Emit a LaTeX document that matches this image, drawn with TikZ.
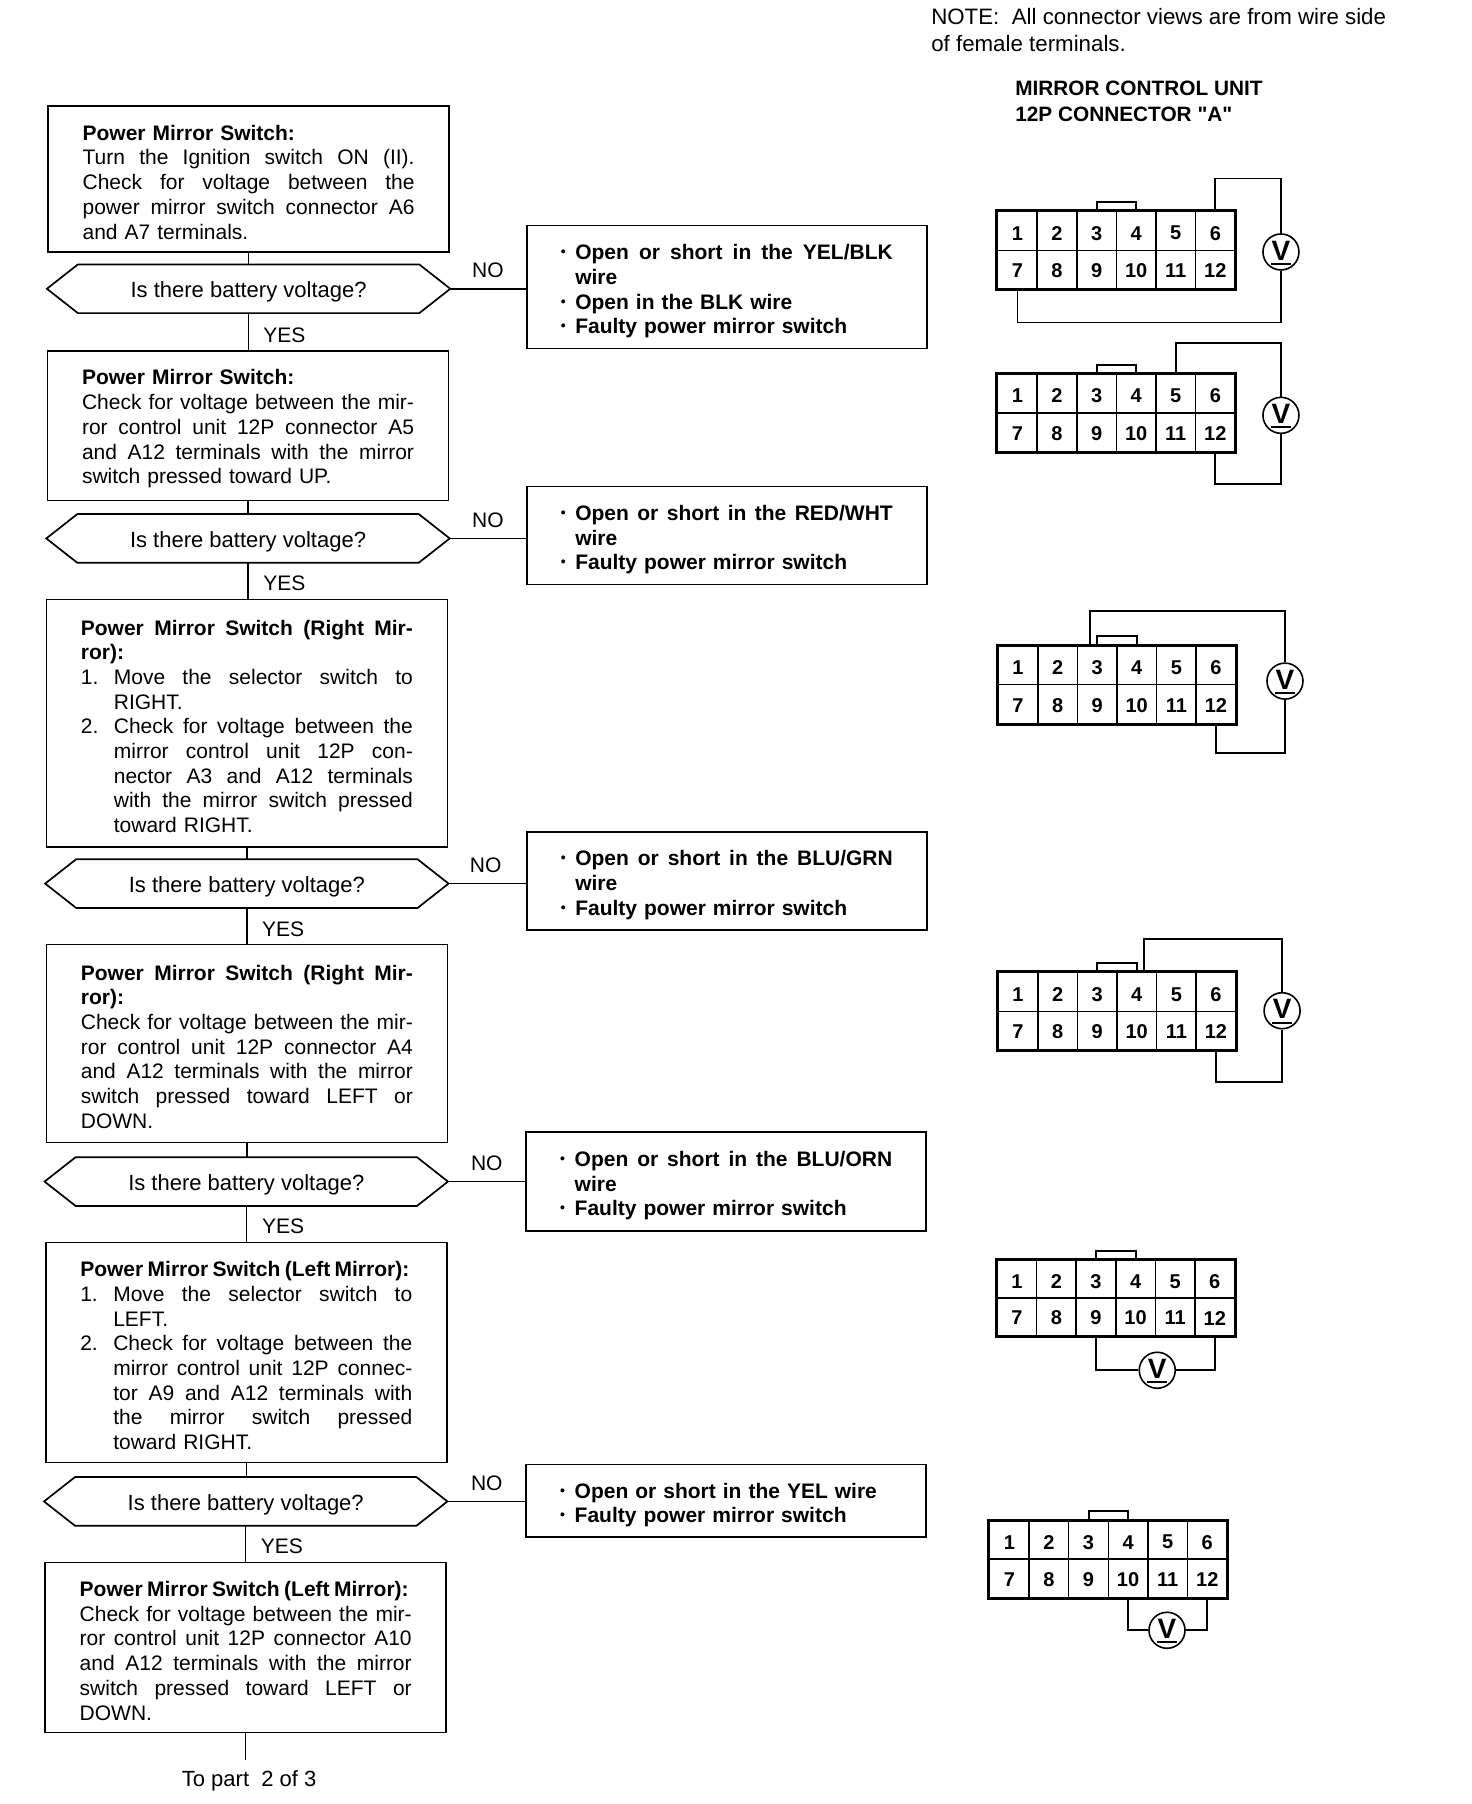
\documentclass[tikz,border=0pt]{standalone}
\usepackage{fontspec}
\setmainfont{Liberation Sans}
\newfontfamily\plainfont{Liberation Sans}
\newcommand{\JuL}[1]{\par\hbox to \hsize{\spaceskip=0pt #1}}
\newcommand{\PlL}[1]{\par\hbox{#1}}
\newcommand{\WiL}[2]{\par\hbox to #1pt{\spaceskip=0pt #2}}
\newcommand{\NumJ}[2]{\par\hbox to \hsize{\spaceskip=0pt \hbox to 33pt{#1\hss}#2}}
\newcommand{\IndJ}[1]{\par\hbox to \hsize{\spaceskip=0pt \hskip 33pt #1}}
\newcommand{\IndL}[1]{\par\hbox{\hskip 33pt #1}}
\newcommand{\bulmark}{\hbox to 14.5pt{\raisebox{3pt}{\fontsize{14}{14}\selectfont •}\hss}}
\newcommand{\BulJ}[1]{\par\hbox to \hsize{\spaceskip=0pt \bulmark #1}}
\newcommand{\BulL}[1]{\par\hbox{\bulmark #1}}
\newcommand{\ContL}[1]{\par\hbox{\hskip 14.5pt #1}}
\newcommand{\txtdown}{\par\vspace*{-3pt}}
\newcommand{\txtdownr}{\par\vspace*{-1pt}}
\tikzset{
  box/.style={draw,line width=1.7pt,inner xsep=34pt,inner ysep=0pt,text width=332pt,
    minimum width=401pt,font=\fontsize{21}{24.7}\selectfont},
  rbox/.style={box,minimum width=399.5pt,font=\fontsize{21}{24.7}\selectfont\bfseries},
  hextext/.style={minimum width=403pt,minimum height=48.3pt,inner sep=0pt,
    font=\fontsize{22}{25}\selectfont},
  hexline/.style={line width=1.7pt,line join=miter},
  flow/.style={line width=1.5pt},
  lab/.style={inner sep=0pt,font=\fontsize{21}{25}\selectfont},
  head/.style={inner sep=0pt,align=left,anchor=north west},
  cell/.style={draw,line width=1.5pt,inner sep=0pt,minimum width=39.6pt,
    font=\fontsize{20}{20}\selectfont\bfseries},
  outer/.style={line width=3pt,line join=miter},
  tabline/.style={line width=2pt},
  wire/.style={line width=1.8pt},
  vmeter/.style={draw,circle,line width=1.6pt,minimum size=36pt,inner sep=0pt,
    font=\fontsize{28}{28}\selectfont\bfseries}
}
\newcommand{\hexa}[5]{%
  \node[hextext] (#1) at ({(#2+#3)/2},#4) {\raisebox{-3pt}[\height][\depth]{#5}};
  \draw[hexline] ([xshift=31pt]#1.north west) -- ([xshift=-31pt]#1.north east) -- (#1.east)
    -- ([xshift=-31pt]#1.south east) -- ([xshift=31pt]#1.south west) -- (#1.west) -- cycle;
}
\newcommand{\conn}[4]{%
  \foreach \i in {1,...,6}{%
    \pgfmathtruncatemacro{\j}{\i+6}%
    \node[cell,minimum height={(#4-1.5)*0.5752pt}] (#1-\i) at ({#2+.8+34.4*(\i-.5)},{#3+.8+(#4-1.5)*.25}) {\raisebox{-2.3pt}[\height][\depth]{\i}};
    \node[cell,minimum height={(#4-1.5)*0.5752pt}] (#1-\j) at ({#2+.8+34.4*(\i-.5)},{#3+.8+(#4-1.5)*.75}) {\raisebox{-1.2pt}[\height][\depth]{\j}};
  }
  \draw[outer] (#1-1.north west) rectangle (#1-12.south east);
  \draw[tabline] (#1-3.north) -- ++(0,-7.5) -| (#1-4.north);
}
\newcommand{\vmet}[3]{%
  \node[vmeter] (#1) at (#2,#3) {\raisebox{3pt}{V}};
  \draw[line width=2.2pt] ([xshift=-10pt,yshift=-12pt]#1.center) -- ([xshift=10pt,yshift=-12pt]#1.center);
}
\begin{document}
\begin{tikzpicture}[x=1.15089pt,y=-1.15051pt]
\useasboundingbox[fill=white] (0,0) rectangle (1279,1568);

% headings
\node[head,font=\fontsize{22.3}{26.5}\selectfont] (note) at (809,7.5)
  {NOTE:\ \ All connector views are from wire side\\of female terminals.};
\node[head,font=\fontsize{20.8}{25.3}\selectfont\plainfont\bfseries] (unit) at (882,70.5)
  {MIRROR CONTROL UNIT\\12P CONNECTOR "A"};

% left column
\node[box,minimum height=146pt] (b1) at (216,155.5) {\txtdown
  \PlL{\bfseries Power Mirror Switch:}
  \JuL{Turn the Ignition switch ON (II).}
  \JuL{Check for voltage between the}
  \JuL{power mirror switch connector A6}
  \PlL{and A7 terminals.}};
\hexa{d1}{41}{391}{251}{Is there battery voltage?}
\node[box,minimum height=149.5pt] (b2) at (215.5,370) {\txtdown
  \PlL{\bfseries Power Mirror Switch:}
  \JuL{Check for voltage between the mir-}
  \JuL{ror control unit 12P connector A5}
  \JuL{and A12 terminals with the mirror}
  \PlL{switch pressed toward UP.}};
\hexa{d2}{40}{391}{468}{Is there battery voltage?}
\node[box,minimum height=247.5pt] (b3) at (214.5,628.5) {\txtdown
  \JuL{\bfseries Power Mirror Switch (Right Mir-}
  \PlL{\bfseries ror):}
  \NumJ{1.}{Move the selector switch to}
  \IndL{RIGHT.}
  \NumJ{2.}{Check for voltage between the}
  \IndJ{mirror control unit 12P con-}
  \IndJ{nector A3 and A12 terminals}
  \IndJ{with the mirror switch pressed}
  \IndL{toward RIGHT.}};
\hexa{d3}{40}{389}{768}{Is there battery voltage?}
\node[box,minimum height=198pt] (b4) at (214.5,907) {\txtdown
  \JuL{\bfseries Power Mirror Switch (Right Mir-}
  \PlL{\bfseries ror):}
  \JuL{Check for voltage between the mir-}
  \JuL{ror control unit 12P connector A4}
  \JuL{and A12 terminals with the mirror}
  \JuL{switch pressed toward LEFT or}
  \PlL{DOWN.}};
\hexa{d4}{39}{389}{1027}{Is there battery voltage?}
\node[box,minimum height=220pt] (b5) at (214,1175.5) {\txtdown
  \WiL{329}{\bfseries Power Mirror Switch (Left Mirror):}
  \NumJ{1.}{Move the selector switch to}
  \IndL{LEFT.}
  \NumJ{2.}{Check for voltage between the}
  \IndJ{mirror control unit 12P connec-}
  \IndJ{tor A9 and A12 terminals with}
  \IndJ{the mirror switch pressed}
  \IndL{toward RIGHT.}};
\hexa{d5}{39}{388}{1305}{Is there battery voltage?}
\node[box,minimum height=170pt] (b6) at (213.5,1432) {\txtdown
  \WiL{329}{\bfseries Power Mirror Switch (Left Mirror):}
  \JuL{Check for voltage between the mir-}
  \JuL{ror control unit 12P connector A10}
  \JuL{and A12 terminals with the mirror}
  \JuL{switch pressed toward LEFT or}
  \PlL{DOWN.}};
\node[lab,font=\fontsize{22}{25}\selectfont] (topart) at (216.5,1548) {To part\ \ 2 of 3};
\coordinate (endline) at (213.5,1530);

% right column
\node[rbox,minimum height=123pt] (r1) at (631.5,249.5) {\txtdownr
  \BulJ{Open or short in the YEL/BLK}
  \ContL{wire}
  \BulL{Open in the BLK wire}
  \BulL{Faulty power mirror switch}};
\node[rbox,minimum height=98pt] (r2) at (631.5,465.5) {\txtdownr
  \BulJ{Open or short in the RED/WHT}
  \ContL{wire}
  \BulL{Faulty power mirror switch}};
\node[rbox,minimum height=98pt] (r3) at (631.5,765.5) {\txtdownr
  \BulJ{Open or short in the BLU/GRN}
  \ContL{wire}
  \BulL{Faulty power mirror switch}};
\node[rbox,minimum height=99pt] (r4) at (631,1027) {\txtdownr
  \BulJ{Open or short in the BLU/ORN}
  \ContL{wire}
  \BulL{Faulty power mirror switch}};
\node[rbox,minimum height=72.5pt] (r5) at (631,1304.5) {\txtdownr
  \BulL{Open or short in the YEL wire}
  \BulL{Faulty power mirror switch}};

% flow connectors
\draw[flow] (b1.south) -- (b1.south |- d1.north);
\draw[flow] (d1.south) -- (d1.south |- b2.north);
\draw[flow] (b2.south) -- (b2.south |- d2.north);
\draw[flow] (d2.south) -- (d2.south |- b3.north);
\draw[flow] (b3.south) -- (b3.south |- d3.north);
\draw[flow] (d3.south) -- (d3.south |- b4.north);
\draw[flow] (b4.south) -- (b4.south |- d4.north);
\draw[flow] (d4.south) -- (d4.south |- b5.north);
\draw[flow] (b5.south) -- (b5.south |- d5.north);
\draw[flow] (d5.south) -- (d5.south |- b6.north);
\draw[flow] (b6.south) -- (endline);
\draw[flow] (d1.east) -- (d1.east -| r1.west);
\draw[flow] (d2.east) -- (d2.east -| r2.west);
\draw[flow] (d3.east) -- (d3.east -| r3.west);
\draw[flow] (d4.east) -- (d4.east -| r4.west);
\draw[flow] (d5.east) -- (d5.east -| r5.west);

% YES / NO labels
\node[lab] (y1) at (247,291) {YES};
\node[lab] (y2) at (247,507) {YES};
\node[lab] (y3) at (246,808) {YES};
\node[lab] (y4) at (246,1066) {YES};
\node[lab] (y5) at (245,1344) {YES};
\node[lab] (n1) at (424,235) {NO};
\node[lab] (n2) at (424,452) {NO};
\node[lab] (n3) at (422,752) {NO};
\node[lab] (n4) at (423,1011) {NO};
\node[lab] (n5) at (423,1289) {NO};

% connector 1
\conn{ca}{866}{183}{69}
\vmet{va}{1113}{219}
\draw[wire] (ca-6.north) -- ++(0,-28) -| (va.north);
\draw[wire] (va.south) -- ++(0,45) -| (ca-7.south);
% connector 2
\conn{cb}{866}{324.5}{69}
\vmet{vb}{1113}{361}
\draw[wire] (cb-5.north) -- ++(0,-26.5) -| (vb.north);
\draw[wire] (vb.south) -- ++(0,43.4) -| (cb-12.south);
% connector 3
\conn{cc}{866.5}{560.5}{69}
\vmet{vc}{1116.5}{592}
\draw[wire] ([xshift=-7pt]cc-3.north) -- ++(0,-29.5) -| (vc.north);
\draw[wire] (vc.south) -- ++(0,46.4) -| (cc-12.south);
% connector 4
\conn{cd}{866.5}{844.5}{69}
\vmet{vd}{1114}{878.5}
\draw[wire] ([xshift=7.6pt]cd-4.north) -- ++(0,-28.5) -| (vd.north);
\draw[wire] (vd.south) -- ++(0,45.5) -| (cd-12.south);
% connector 5
\conn{ce}{865.5}{1095}{66.5}
\vmet{ve}{1005.5}{1191}
\draw[wire] (ce-9.south) |- (ve.west);
\draw[wire] (ce-12.south) |- (ve.east);
% connector 6
\conn{cf}{859}{1321}{68}
\vmet{vf}{1014}{1417}
\draw[wire] (cf-10.south) |- (vf.west);
\draw[wire] (cf-12.south) |- (vf.east);
\end{tikzpicture}
\end{document}
